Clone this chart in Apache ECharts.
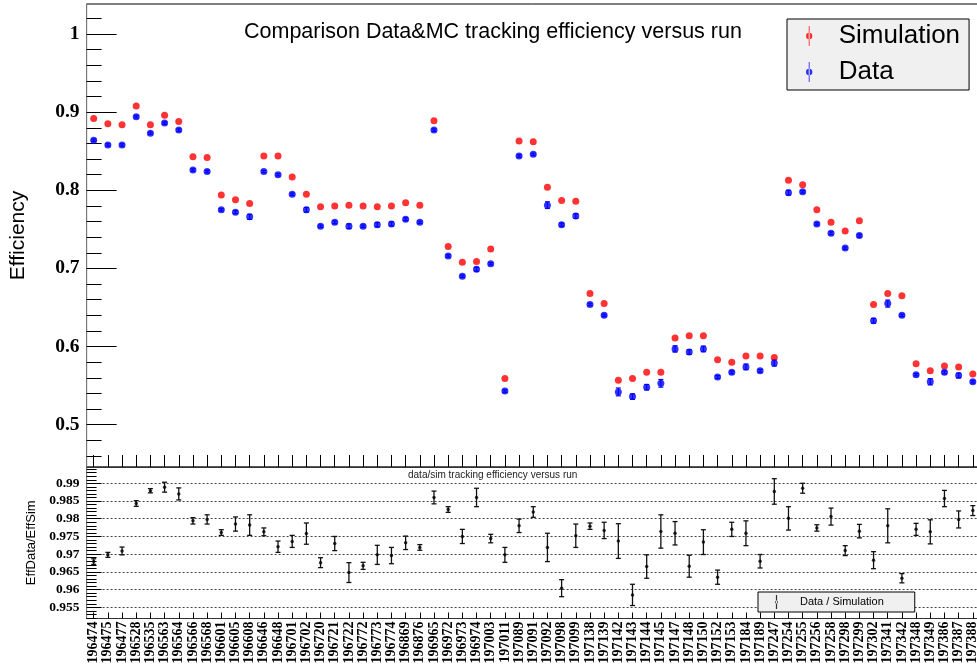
<!DOCTYPE html>
<html>
<head>
<meta charset="utf-8">
<title>Tracking efficiency versus run</title>
<script src="https://cdn.jsdelivr.net/npm/echarts@6/dist/echarts.min.js"></script>
<style>
  html, body { margin: 0; padding: 0; background: #fff; }
  #chart { width: 977px; height: 666px; }
</style>
</head>
<body>
<div id="chart"></div>
<script>
// Run numbers (one bin per run)
const runs = [
  '196474','196475','196477','196528','196535','196563','196564','196566','196568','196601',
  '196605','196608','196646','196648','196701','196702','196720','196721','196722','196772',
  '196773','196774','196869','196876','196965','196972','196973','196974','197003','197011',
  '197089','197091','197092','197098','197099','197138','197139','197142','197143','197144',
  '197145','197147','197148','197150','197152','197153','197184','197189','197247','197254',
  '197255','197256','197258','197298','197299','197302','197341','197342','197348','197349',
  '197386','197387','197388'
];

// Tracking efficiency in simulation
const effSim = [
  0.892, 0.885, 0.884, 0.908, 0.884, 0.896, 0.888, 0.843, 0.842, 0.794,
  0.788, 0.783, 0.844, 0.844, 0.817, 0.795, 0.779, 0.780, 0.781, 0.780,
  0.779, 0.780, 0.784, 0.781, 0.889, 0.728, 0.708, 0.709, 0.725, 0.559,
  0.863, 0.862, 0.804, 0.787, 0.786, 0.668, 0.655, 0.557, 0.559, 0.567,
  0.567, 0.611, 0.614, 0.614, 0.583, 0.580, 0.588, 0.588, 0.586, 0.813,
  0.807, 0.775, 0.759, 0.748, 0.761, 0.654, 0.668, 0.665, 0.578, 0.569,
  0.575, 0.574, 0.565
];

// Tracking efficiency in data
const effData = [
  0.864, 0.858, 0.858, 0.894, 0.873, 0.886, 0.877, 0.826, 0.824, 0.775,
  0.772, 0.766, 0.824, 0.820, 0.795, 0.775, 0.754, 0.759, 0.754, 0.754,
  0.756, 0.757, 0.763, 0.759, 0.877, 0.716, 0.690, 0.699, 0.706, 0.543,
  0.844, 0.846, 0.781, 0.756, 0.767, 0.654, 0.640, 0.542, 0.536, 0.548,
  0.553, 0.597, 0.593, 0.597, 0.561, 0.567, 0.574, 0.569, 0.579, 0.797,
  0.798, 0.757, 0.745, 0.726, 0.742, 0.633, 0.655, 0.640, 0.564, 0.555,
  0.567, 0.563, 0.555
];

// Statistical uncertainty on the data efficiency
const effDataErr = [
  0.0015, 0.0015, 0.0015, 0.0015, 0.0015, 0.0015, 0.0015, 0.0015, 0.0015, 0.0015,
  0.0018, 0.0032, 0.0015, 0.0015, 0.0015, 0.0030, 0.0015, 0.0018, 0.0030, 0.0015,
  0.0028, 0.0025, 0.0018, 0.0015, 0.0015, 0.0015, 0.0015, 0.0025, 0.0015, 0.0015,
  0.0015, 0.0015, 0.0043, 0.0020, 0.0030, 0.0015, 0.0015, 0.0050, 0.0035, 0.0035,
  0.0049, 0.0040, 0.0030, 0.0036, 0.0018, 0.0018, 0.0036, 0.0018, 0.0040, 0.0030,
  0.0015, 0.0015, 0.0018, 0.0015, 0.0018, 0.0030, 0.0045, 0.0015, 0.0015, 0.0040,
  0.0018, 0.0030, 0.0015
];

// Efficiency ratio data / simulation
const ratio = [
  0.9679, 0.9698, 0.9709, 0.9843, 0.9879, 0.9889, 0.9870, 0.9794, 0.9798, 0.9761,
  0.9785, 0.9782, 0.9763, 0.9721, 0.9736, 0.9758, 0.9676, 0.9730, 0.9648, 0.9667,
  0.9698, 0.9696, 0.9732, 0.9719, 0.9860, 0.9826, 0.9750, 0.9860, 0.9744, 0.9698,
  0.9780, 0.9819, 0.9719, 0.9604, 0.9752, 0.9779, 0.9767, 0.9737, 0.9585, 0.9665,
  0.9764, 0.9759, 0.9666, 0.9734, 0.9635, 0.9770, 0.9759, 0.9680, 0.9877, 0.9801,
  0.9886, 0.9774, 0.9806, 0.9710, 0.9765, 0.9683, 0.9780, 0.9632, 0.9770, 0.9763,
  0.9857, 0.9798, 0.9823
];

const ratioErr = [
  0.0008, 0.0007, 0.0011, 0.0008, 0.0006, 0.0014, 0.0017, 0.0009, 0.0013, 0.0008,
  0.0020, 0.0029, 0.0011, 0.0016, 0.0017, 0.0030, 0.0014, 0.0020, 0.0028, 0.0010,
  0.0027, 0.0023, 0.0019, 0.0008, 0.0018, 0.0008, 0.0020, 0.0026, 0.0012, 0.0021,
  0.0019, 0.0015, 0.0040, 0.0024, 0.0033, 0.0009, 0.0023, 0.0049, 0.0030, 0.0033,
  0.0047, 0.0033, 0.0031, 0.0035, 0.0020, 0.0020, 0.0035, 0.0019, 0.0036, 0.0033,
  0.0014, 0.0009, 0.0024, 0.0014, 0.0019, 0.0024, 0.0048, 0.0013, 0.0017, 0.0034,
  0.0023, 0.0024, 0.0014
];

// Axis ticks
const effTicks = [0.5, 0.6, 0.7, 0.8, 0.9, 1];
const effMinorTicks = [0.46, 0.48, 0.52, 0.54, 0.56, 0.58, 0.62, 0.64, 0.66, 0.68,
  0.72, 0.74, 0.76, 0.78, 0.82, 0.84, 0.86, 0.88, 0.92, 0.94, 0.96, 0.98, 1.02];
const ratioTicks = [0.955, 0.96, 0.965, 0.97, 0.975, 0.98, 0.985, 0.99];
const ratioMinorTicks = [0.952, 0.953, 0.954, 0.956, 0.957, 0.958, 0.959, 0.961, 0.962,
  0.963, 0.964, 0.966, 0.967, 0.968, 0.969, 0.971, 0.972, 0.973, 0.974, 0.976, 0.977,
  0.978, 0.979, 0.981, 0.982, 0.983, 0.984, 0.986, 0.987, 0.988, 0.989, 0.991, 0.992,
  0.993, 0.994];

const SANS = 'Liberation Sans, Arial, Helvetica, sans-serif';
const SERIF = 'Liberation Serif, Times New Roman, serif';

// Vertical error bar with small caps, drawn through the axes' own scales
function errorBars(color, capHalf, lineWidth) {
  return function (params, api) {
    const i = api.value(0);
    const v = api.value(1);
    const e = api.value(2);
    const hi = api.coord([i, v + e]);
    const lo = api.coord([i, v - e]);
    const style = { stroke: color, lineWidth: lineWidth };
    return {
      type: 'group',
      children: [
        { type: 'line', shape: { x1: hi[0], y1: hi[1], x2: lo[0], y2: lo[1] }, style: style },
        { type: 'line', shape: { x1: hi[0] - capHalf, y1: hi[1], x2: hi[0] + capHalf, y2: hi[1] }, style: style },
        { type: 'line', shape: { x1: lo[0] - capHalf, y1: lo[1], x2: lo[0] + capHalf, y2: lo[1] }, style: style }
      ]
    };
  };
}

const GRID_LEFT = 86.6;
const GRID_WIDTH = 893.3;

const chart = echarts.init(document.getElementById('chart'), null, { renderer: 'canvas' });

chart.setOption({
  animation: false,
  backgroundColor: '#fff',
  title: [
    {
      text: 'Comparison Data&MC tracking efficiency versus run',
      left: 239, top: 16,
      textStyle: { fontFamily: SANS, fontSize: 21.5, fontWeight: 'normal', color: '#000' }
    },
    {
      text: 'data/sim tracking efficiency versus run',
      left: 403, top: 465,
      textStyle: { fontFamily: SANS, fontSize: 10, fontWeight: 'normal', color: '#222' }
    }
  ],
  legend: [
    {
      data: ['Simulation', 'Data'],
      orient: 'vertical',
      left: 787, top: 19,
      padding: [4, 9, 5, 19],
      itemGap: 10,
      itemWidth: 7, itemHeight: 20,
      icon: 'path://M3.5,0 H4.5 V22 H3.5 Z M0.5,11 A3.5,3.5 0 1 0 7.5,11 A3.5,3.5 0 1 0 0.5,11 Z',
      backgroundColor: '#f0f0f0',
      borderColor: '#000', borderWidth: 1, borderRadius: 0,
      selectedMode: false,
      formatter: '{t|{name}}',
      textStyle: {
        rich: { t: { fontFamily: SANS, fontSize: 26, lineHeight: 26, color: '#000', padding: [0, 0, 0, 21] } }
      }
    },
    {
      data: ['Data / Simulation'],
      orient: 'vertical',
      left: 758, top: 592,
      padding: [3, 31, 3, 17],
      itemWidth: 3, itemHeight: 14,
      icon: 'path://M1.4,0 H2.6 V14 H1.4 Z M0.5,7 A1.5,1.5 0 1 0 3.5,7 A1.5,1.5 0 1 0 0.5,7 Z',
      backgroundColor: '#f0f0f0',
      borderColor: '#000', borderWidth: 1, borderRadius: 0,
      selectedMode: false,
      formatter: '{t|{name}}',
      textStyle: {
        rich: { t: { fontFamily: SANS, fontSize: 11, lineHeight: 14, color: '#000', padding: [0, 0, 0, 17] } }
      }
    }
  ],
  grid: [
    {
      left: GRID_LEFT, top: 4, width: GRID_WIDTH, height: 463,
      show: true, borderColor: '#000', borderWidth: 1, backgroundColor: 'transparent',
      outerBoundsMode: 'none'
    },
    {
      left: GRID_LEFT, top: 467, width: GRID_WIDTH, height: 151.5,
      show: true, borderColor: '#333', borderWidth: 1, backgroundColor: 'transparent',
      outerBoundsMode: 'none'
    }
  ],
  xAxis: [
    {
      type: 'category', gridIndex: 0, data: runs, boundaryGap: true,
      axisLine: { show: true, lineStyle: { color: '#333', width: 1 } },
      axisTick: { show: true, inside: true, length: 12, alignWithLabel: true, interval: 0,
        lineStyle: { color: '#000' } },
      axisLabel: { show: false },
      splitLine: { show: false }
    },
    {
      type: 'category', gridIndex: 1, data: runs, boundaryGap: true,
      axisLine: { show: true, lineStyle: { color: '#333', width: 1 } },
      axisTick: { show: true, inside: true, length: 6, alignWithLabel: true, interval: 0,
        lineStyle: { color: '#000' } },
      axisLabel: {
        show: true, interval: 0, rotate: 90, margin: 3,
        fontFamily: SERIF, fontWeight: 'bold', fontSize: 14, color: '#000'
      },
      splitLine: { show: false }
    }
  ],
  yAxis: [
    {
      type: 'value', gridIndex: 0, min: 0.4459, max: 1.0384, position: 'left',
      axisLine: { show: true, lineStyle: { color: '#777', width: 1 } },
      axisTick: { show: true, inside: true, length: 30, customValues: effTicks,
        lineStyle: { color: '#000' } },
      axisLabel: { show: true, customValues: effTicks, margin: 7,
        fontFamily: SERIF, fontWeight: 'bold', fontSize: 19.5, color: '#000' },
      splitLine: { show: false },
      name: 'Efficiency', nameLocation: 'middle', nameGap: 58,
      nameTextStyle: { fontFamily: SANS, fontSize: 21, color: '#000' }
    },
    {
      type: 'value', gridIndex: 0, min: 0.4459, max: 1.0384, position: 'left', offset: 0,
      axisLine: { show: false },
      axisTick: { show: true, inside: true, length: 15, customValues: effMinorTicks,
        lineStyle: { color: '#000' } },
      axisLabel: { show: false },
      splitLine: { show: false }
    },
    {
      type: 'value', gridIndex: 1, min: 0.95184, max: 0.9946, position: 'left',
      axisLine: { show: true, lineStyle: { color: '#777', width: 1 } },
      axisTick: { show: true, inside: true, length: 15, customValues: ratioTicks,
        lineStyle: { color: '#000' } },
      axisLabel: { show: true, customValues: ratioTicks, margin: 7,
        fontFamily: SERIF, fontWeight: 'bold', fontSize: 13.5, color: '#000' },
      splitLine: { show: true, lineStyle: { type: [2, 2], color: '#444', width: 1 } },
      name: 'EffData/EffSim', nameLocation: 'middle', nameGap: 35,
      nameTextStyle: { fontFamily: SANS, fontSize: 13, color: '#000' }
    },
    {
      type: 'value', gridIndex: 1, min: 0.95184, max: 0.9946, position: 'left', offset: 0,
      axisLine: { show: false },
      axisTick: { show: true, inside: true, length: 10, customValues: ratioMinorTicks,
        lineStyle: { color: '#000' } },
      axisLabel: { show: false },
      splitLine: { show: false }
    }
  ],
  series: [
    {
      name: 'Simulation', type: 'scatter', xAxisIndex: 0, yAxisIndex: 0,
      data: effSim, symbol: 'circle', symbolSize: 7,
      itemStyle: { color: '#ff0000' }, z: 4
    },
    {
      name: 'Data uncertainty', type: 'custom', xAxisIndex: 0, yAxisIndex: 0,
      renderItem: errorBars('#0000ff', 2.5, 1.2),
      data: runs.map((r, i) => [i, effData[i], effDataErr[i]]),
      encode: { x: 0, y: 1 }, z: 3, silent: true
    },
    {
      name: 'Data', type: 'scatter', xAxisIndex: 0, yAxisIndex: 0,
      data: effData, symbol: 'circle', symbolSize: 7,
      itemStyle: { color: '#0000ff' }, z: 4
    },
    {
      name: 'Ratio uncertainty', type: 'custom', xAxisIndex: 1, yAxisIndex: 2,
      renderItem: errorBars('#111', 2.5, 1.3),
      data: runs.map((r, i) => [i, ratio[i], ratioErr[i]]),
      encode: { x: 0, y: 1 }, z: 3, silent: true
    },
    {
      name: 'Data / Simulation', type: 'scatter', xAxisIndex: 1, yAxisIndex: 2,
      data: ratio, symbol: 'circle', symbolSize: 3.5,
      itemStyle: { color: '#000' }, z: 4
    }
  ]
});
</script>
</body>
</html>
